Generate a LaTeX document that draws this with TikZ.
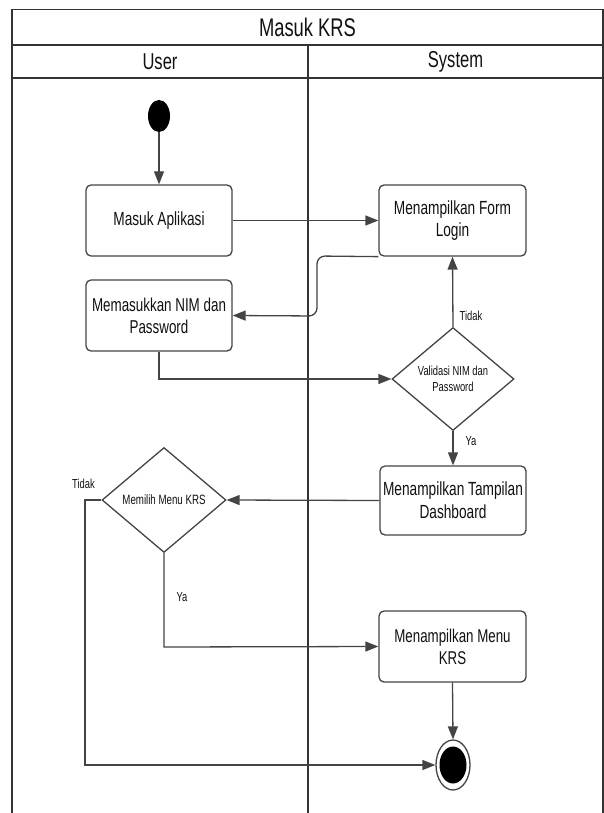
\documentclass[tikz,border=0pt]{standalone}
\usepackage{fontspec}
\setmainfont{Liberation Sans}[FakeStretch=0.72]
\usetikzlibrary{arrows.meta,shapes.geometric}
\definecolor{ink}{HTML}{111111}
\definecolor{edge}{HTML}{444444}
\definecolor{frame}{HTML}{333333}
\begin{document}
\begin{tikzpicture}[x=1pt,y=-1pt,
  lane/.style={draw=frame,line width=1.8pt},
  action/.style={draw=edge,line width=1.3pt,rounded corners=5pt,fill=white,
    minimum width=146pt,minimum height=71pt,inner sep=1pt,align=center,text=ink,
    font=\fontsize{19}{22}\selectfont},
  decision/.style={draw=edge,line width=1.3pt,diamond,fill=white,inner sep=0pt,
    minimum width=122pt,minimum height=103pt,align=center,text=ink,
    font=\fontsize{13}{16}\selectfont},
  flow/.style={draw=edge,line width=1.3pt,-{Triangle[length=13pt,width=10pt]}},
  guard/.style={text=ink,font=\fontsize{13}{15}\selectfont,inner sep=0pt}]
\useasboundingbox (0,0) rectangle (604,813);

% swimlane frame
\draw[lane] (12,813) -- (12,9.5) -- (603,9.5) -- (603,813);
\draw[lane] (12,45) -- (603,45);
\draw[lane] (12,78) -- (603,78);
\draw[lane] (308,45) -- (308,813);
\node[text=ink,font=\fontsize{25.5}{28}\selectfont] (title) at (307.5,27.5) {Masuk KRS};
\node[text=ink,font=\fontsize{23}{26}\selectfont] (laneuser) at (160,61.5) {User};
\node[text=ink,font=\fontsize{23}{26}\selectfont] (lanesys) at (455.5,61.5) {System};

% activities
\node[ellipse,fill=black,minimum width=22pt,minimum height=32pt,inner sep=0pt] (start) at (159,116) {};
\node[action] (masuk) at (159,220.5) {Masuk Aplikasi};
\node[action,minimum width=147pt] (form) at (452.5,220.5) {Menampilkan Form\\Login};
\node[action,font=\fontsize{18.6}{22}\selectfont] (nim) at (159,315.5) {Memasukkan NIM dan\\Password};
\node[decision] (valid) at (453,379) {Validasi NIM dan\\Password};
\node[action,minimum height=69pt,font=\fontsize{19}{23}\selectfont] (dash) at (453,500.5) {Menampilkan Tampilan\\Dashboard};
\node[decision,minimum width=124pt,minimum height=105pt,font=\fontsize{13.5}{16}\selectfont] (pilih) at (164,500) {Memilih Menu KRS};
\node[action,minimum width=147pt,font=\fontsize{18.5}{22}\selectfont] (menu) at (452.5,646.5) {Menampilkan Menu\\KRS};
\node[ellipse,draw=edge,line width=1.3pt,fill=white,minimum width=34pt,minimum height=50pt,inner sep=0pt] (final) at (453,765) {};
\node[ellipse,fill=black,minimum width=27pt,minimum height=37pt,inner sep=0pt] (finaldot) at (final.center) {};

% bend points
\coordinate (b1) at (317,256);
\coordinate (b2) at (317,316);
\coordinate (b3) at (159,379);
\coordinate (b4) at (85,500);
\coordinate (b5) at (85,765);
\coordinate (b6) at (164,647);

% transitions
\draw[flow] (start) -- (masuk);
\draw[flow] (masuk.east) -- (form.west);
\draw[flow,rounded corners=8pt] (form.south west) -- (b1) -- (b2) -- (nim.east);
\draw[flow] (nim.south) -- (b3) -- (valid.west);
\draw[flow] (valid.north) -- (form.south);
\draw[flow] (valid.south) -- (dash.north);
\draw[flow] (dash.west) -- (pilih.east);
\draw[flow] (pilih.west) -- (b4) -- (b5) -- (final.west);
\draw[flow] (pilih.south) -- (b6) -- (menu.west);
\draw[flow] (menu.south) -- (final.north);

% guards
\node[guard] (g1) at (471,316) {Tidak};
\node[guard] (g2) at (471,441) {Ya};
\node[guard] (g3) at (83.5,484) {Tidak};
\node[guard] (g4) at (182,597) {Ya};
\end{tikzpicture}
\end{document}
